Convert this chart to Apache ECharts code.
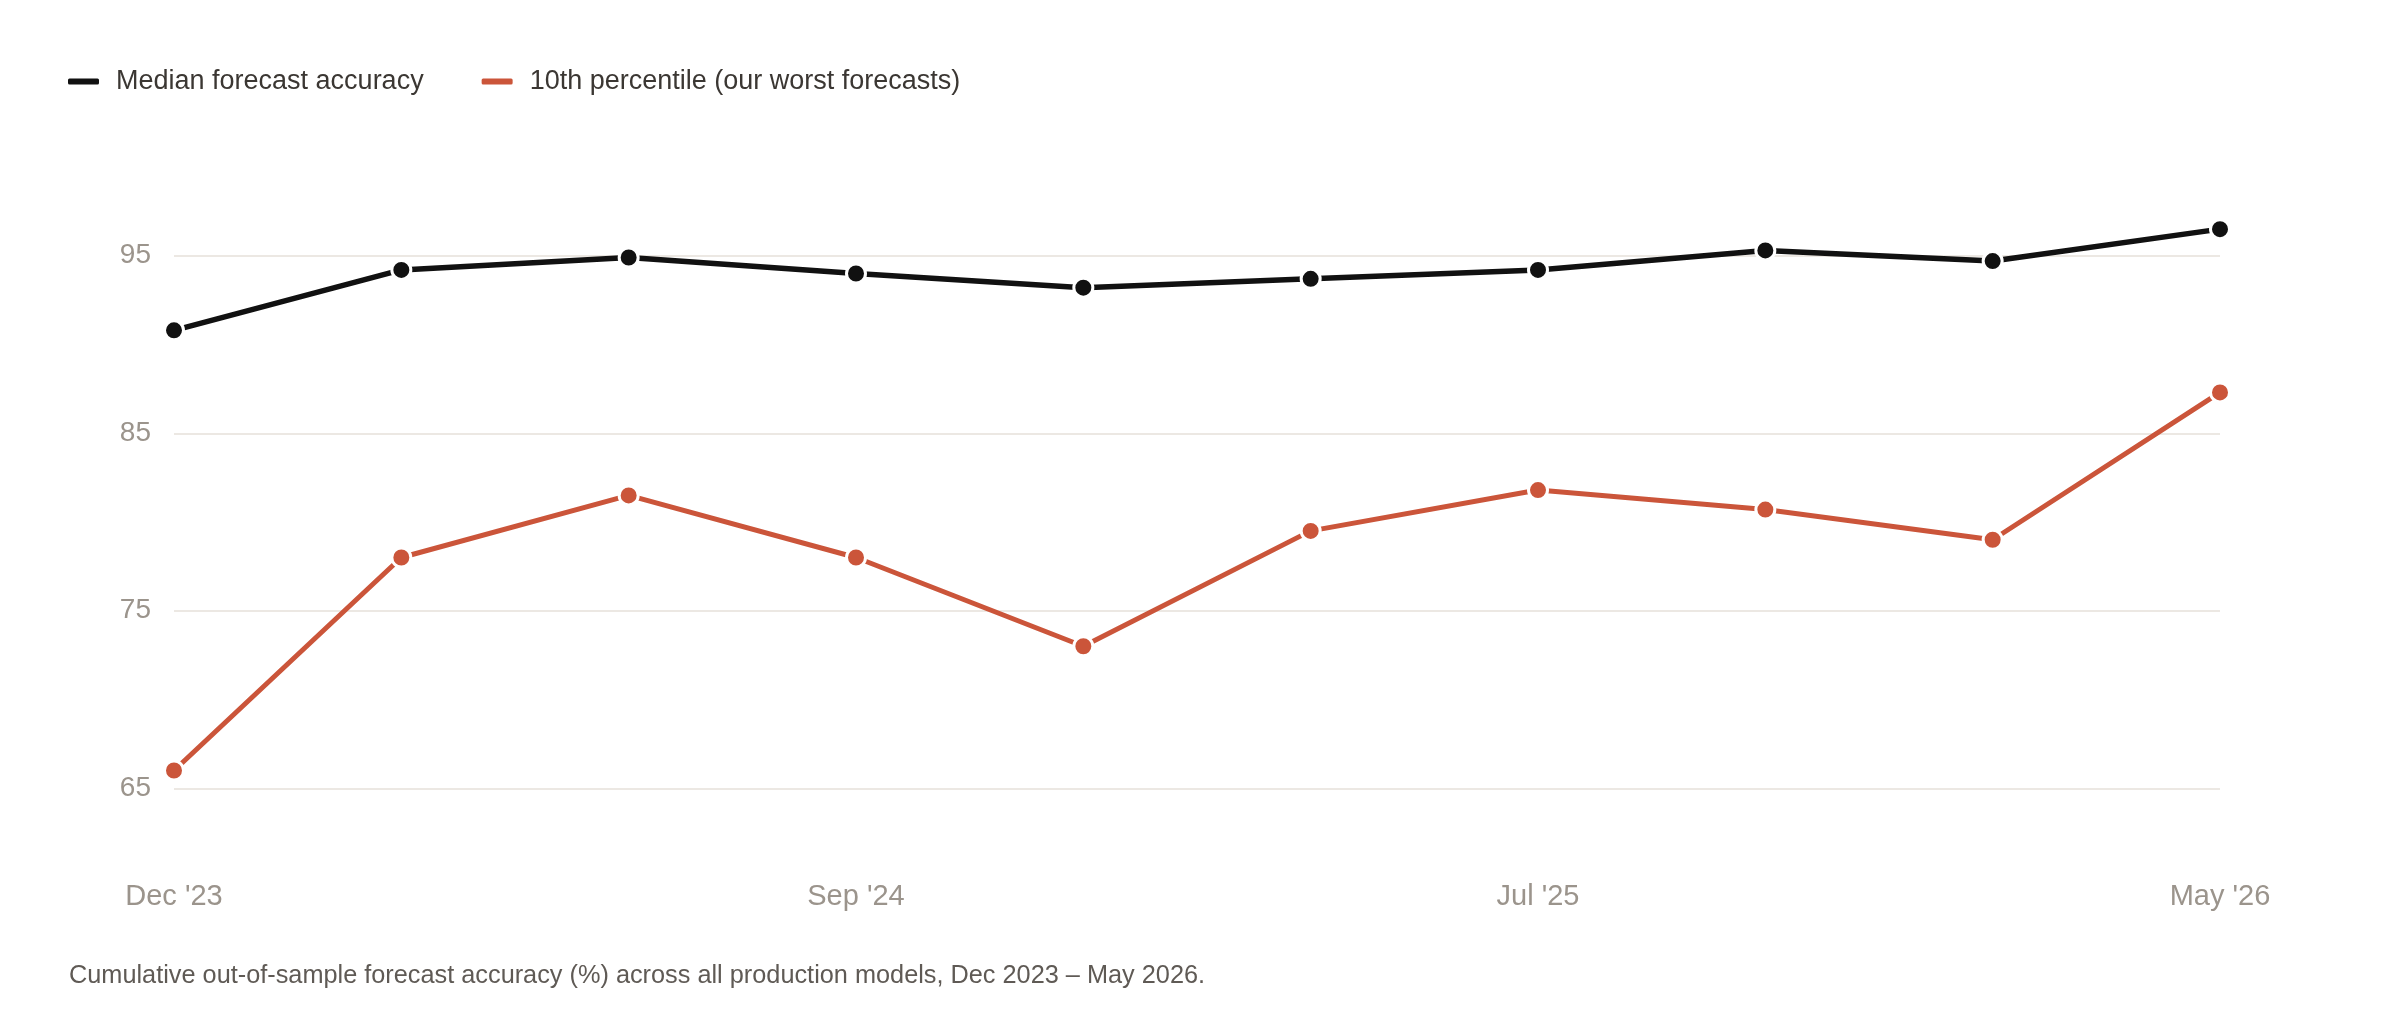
<!DOCTYPE html>
<html>
<head>
<meta charset="utf-8">
<script src="https://cdn.jsdelivr.net/npm/echarts@6/dist/echarts.min.js"></script>
<style>
  html, body { margin: 0; padding: 0; background: #ffffff; }
  #chart { width: 2400px; height: 1020px; }
</style>
</head>
<body>
<div id="chart"></div>
<script>
// 月份（类目轴）
const months = ["Dec '23", "Mar '24", "Jun '24", "Sep '24", "Dec '24", "Apr '25", "Jul '25", "Oct '25", "Jan '26", "May '26"]
// 中位数准确率
const medianAccuracy = [90.8, 94.2, 94.9, 94.0, 93.2, 93.7, 94.2, 95.3, 94.7, 96.5]
// 第10百分位
const p10Accuracy = [66.0, 78.0, 81.5, 78.0, 73.0, 79.5, 81.8, 80.7, 79.0, 87.3]
// 要显示的刻度
const yTicks = [65, 75, 85, 95]

const fontFamily = '"Liberation Sans", Arial, Helvetica, sans-serif'

const chart = echarts.init(document.getElementById('chart'))
chart.setOption({
    animation: false,
    backgroundColor: '#ffffff',
    title: {
        text: 'Cumulative out-of-sample forecast accuracy (%) across all production models, Dec 2023 – May 2026.',
        left: 64,
        top: 959,
        textStyle: {
            fontFamily,
            fontSize: 25.3,
            fontWeight: 'normal',
            color: '#5f5a55'
        }
    },
    legend: {
        left: 63,
        top: 63,
        itemWidth: 31,
        itemHeight: 6,
        itemGap: 58,
        icon: 'roundRect',
        itemStyle: { borderWidth: 0 },
        textStyle: {
            fontFamily,
            fontSize: 27,
            color: '#3b3733',
            padding: [0, 0, 0, 12]
        },
        data: ['Median forecast accuracy', '10th percentile (our worst forecasts)']
    },
    grid: {
        left: 174,
        right: 180,
        top: 167,
        bottom: 143,
        containLabel: false
    },
    xAxis: {
        type: 'category',
        data: months,
        boundaryGap: false,
        axisLine: { show: false },
        axisTick: { show: false },
        splitLine: { show: false },
        axisLabel: {
            interval: 2,
            margin: 5,
            fontFamily,
            fontSize: 29,
            color: '#9b948c'
        }
    },
    yAxis: {
        type: 'value',
        min: 60,
        max: 100,
        interval: 5,
        axisLine: { show: false },
        axisTick: { show: false },
        axisLabel: {
            margin: 23,
            fontFamily,
            fontSize: 28,
            color: '#9b948c',
            formatter: v => yTicks.includes(v) ? String(v) : ''
        },
        splitLine: {
            show: true,
            lineStyle: {
                color: ['rgba(0,0,0,0)', '#ece8e3'],
                width: 2
            }
        }
    },
    series: [
        {
            name: 'Median forecast accuracy',
            type: 'line',
            data: medianAccuracy,
            symbol: 'circle',
            symbolSize: 19,
            lineStyle: { color: '#111111', width: 5.5 },
            itemStyle: { color: '#111111', borderColor: '#ffffff', borderWidth: 3 },
            z: 3
        },
        {
            name: '10th percentile (our worst forecasts)',
            type: 'line',
            data: p10Accuracy,
            symbol: 'circle',
            symbolSize: 19,
            lineStyle: { color: '#cb553a', width: 5 },
            itemStyle: { color: '#cb553a', borderColor: '#ffffff', borderWidth: 3 },
            z: 2
        }
    ]
})
</script>
</body>
</html>
